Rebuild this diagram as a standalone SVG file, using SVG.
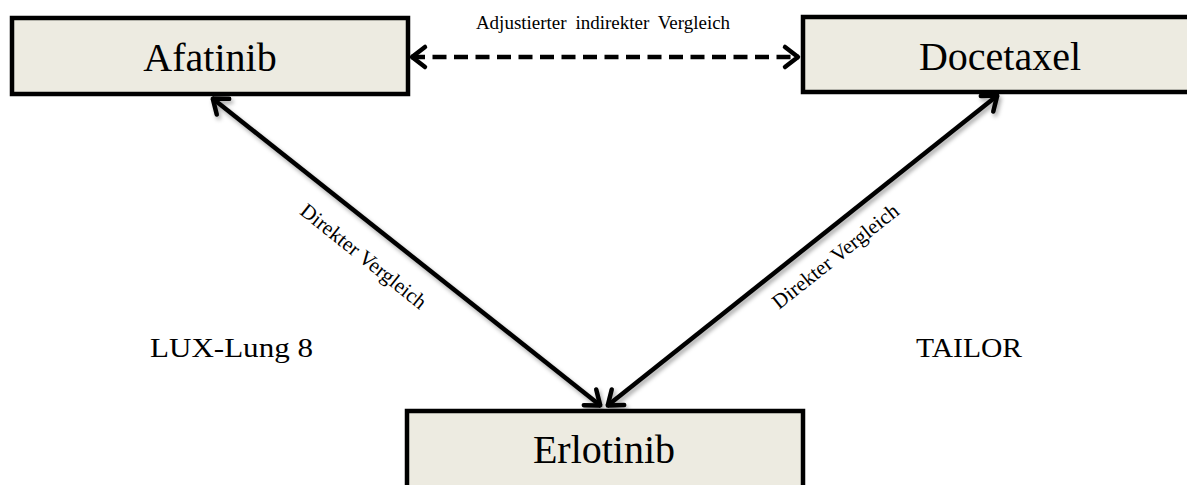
<svg xmlns="http://www.w3.org/2000/svg" width="1187" height="485" viewBox="0 0 1187 485">
  <style>
    .box { fill: #EDEBE1; stroke: #000; stroke-width: 4.5; }
    .node-label { font-family: "Liberation Serif", "Times New Roman", serif; font-size: 40px; fill: #000; text-anchor: middle; }
    .edge { fill: none; stroke: #000; stroke-width: 4.5; }
    .dashed { stroke-dasharray: 14 7.5; }
    .edge-label { font-family: "Liberation Serif", "Times New Roman", serif; font-size: 21px; fill: #000; text-anchor: middle; }
    .top-label { font-size: 19px; word-spacing: 4px; }
    .study { font-family: "Liberation Serif", "Times New Roman", serif; font-size: 28px; fill: #000; }
  </style>
  <defs>
    <marker id="chev" markerUnits="userSpaceOnUse" markerWidth="30" markerHeight="30" viewBox="-20 -15 30 30" refX="0" refY="0" orient="auto-start-reverse" overflow="visible">
      <path d="M-14,-10 L-1,0 L-14,10" fill="none" stroke="#000" stroke-width="4.5" stroke-linecap="round" stroke-linejoin="round"/>
    </marker>
    <filter id="shadow" x="-20%" y="-20%" width="140%" height="140%">
      <feDropShadow dx="2" dy="3" stdDeviation="2" flood-color="#000" flood-opacity="0.35"/>
    </filter>
  </defs>

  <g id="connectors">
    <line class="edge dashed" x1="411" y1="57" x2="799" y2="57" marker-start="url(#chev)" marker-end="url(#chev)"/>
    <line class="edge" x1="212" y1="98" x2="601" y2="406" marker-start="url(#chev)" marker-end="url(#chev)" filter="url(#shadow)"/>
    <line class="edge" x1="607" y1="406" x2="998" y2="95" marker-start="url(#chev)" marker-end="url(#chev)" filter="url(#shadow)"/>
    <text class="edge-label top-label" x="603" y="29">Adjustierter indirekter Vergleich</text>
    <text class="edge-label" transform="translate(363,257) rotate(38.6)" x="0" y="6">Direkter Vergleich</text>
    <text class="edge-label" transform="translate(836,257) rotate(-38.5)" x="0" y="6">Direkter Vergleich</text>
  </g>

  <g id="node-afatinib">
    <rect class="box" x="12" y="18" width="396" height="76"/>
    <text class="node-label" x="210" y="71">Afatinib</text>
  </g>

  <g id="node-docetaxel">
    <rect class="box" x="803" y="17" width="400" height="75"/>
    <text class="node-label" x="1000" y="70">Docetaxel</text>
  </g>

  <g id="node-erlotinib">
    <rect class="box" x="407" y="411" width="396" height="100"/>
    <text class="node-label" x="604" y="463">Erlotinib</text>
  </g>

  <g id="study-labels">
    <text class="study" x="150" y="357" textLength="163" lengthAdjust="spacingAndGlyphs">LUX-Lung 8</text>
    <text class="study" x="916" y="357" textLength="106" lengthAdjust="spacingAndGlyphs">TAILOR</text>
  </g>
</svg>
